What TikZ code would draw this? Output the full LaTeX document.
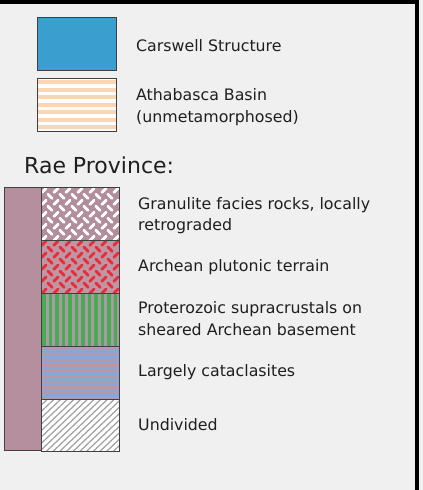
\documentclass[tikz,border=0pt]{standalone}
\usepackage{fontspec}
\setmainfont{DejaVu Sans}
\usepackage{xcolor}
\usepackage{tikz}
\usetikzlibrary{positioning}
\definecolor{panelbg}{RGB}{240,240,240}
\definecolor{carswellblue}{RGB}{58,158,206}
\definecolor{peach}{RGB}{252,214,180}
\definecolor{raemauve}{RGB}{181,143,157}
\definecolor{granmauve}{RGB}{178,142,156}
\definecolor{archpink}{RGB}{190,150,164}
\definecolor{archred}{RGB}{232,44,56}
\definecolor{progreen}{RGB}{72,170,82}
\definecolor{progray}{RGB}{168,156,162}
\definecolor{catblue}{RGB}{140,166,212}
\definecolor{catmauve}{RGB}{182,152,170}
\definecolor{hatchgray}{RGB}{160,160,160}
\tikzset{
  frame/.style    = {line width=3.5pt, black},
  swatch/.style   = {minimum width=78.6pt, minimum height=53pt, inner sep=0pt,
                     anchor=north west},
  unitbox/.style  = {minimum width=78.3pt, minimum height=52.5pt, inner sep=0pt},
  edge/.style     = {draw=black!75, line width=0.8pt},
  legtext/.style  = {anchor=base west, inner sep=0pt, align=left, text=black!88,
                     font=\fontsize{15.8}{21.3}\selectfont},
  heading/.style  = {anchor=base west, inner sep=0pt, text=black!88,
                     font=\fontsize{22}{26}\selectfont},
  weave/.style    = {line width=2.8pt, line cap=round},
}
\begin{document}
\begin{tikzpicture}[x=1pt, y=-1pt]
\useasboundingbox[fill=panelbg] (0,0) rectangle (423,490);
\draw[frame] (0,2) -- (417,2) -- (417,490);

% upper legend
\node[swatch, fill=carswellblue] (carswell) at (37.7,17.3) {};
\node[swatch, fill=white, minimum height=52.7pt] (athabasca) at (37.7,78.3) {};
\begin{scope}[shift={(athabasca.north west)}]
  \clip (0,0) rectangle (78.6,52.7);
  \foreach \k in {0,...,6}
    \fill[peach] (0,2+7.5*\k) rectangle (78.6,5.8+7.5*\k);
\end{scope}
\node[legtext] (carswelltxt) at (136,51.7) {Carswell Structure};
\node[legtext] (athabascatxt) at (136,122) {Athabasca Basin\\(unmetamorphosed)};

% Rae Province
\node[heading] (rae) at (24,173.3) {Rae Province:};
\node[swatch, fill=raemauve, minimum width=36.3pt, minimum height=262.5pt]
  (raebar) at (4.7,187.3) {};
\node[unitbox, anchor=north west, fill=granmauve] (gran) at (41,187.3) {};
\node[unitbox, fill=archpink, below=0pt of gran] (arch) {};
\node[unitbox, fill=progray, below=0pt of arch] (prot) {};
\node[unitbox, fill=catblue, below=0pt of prot] (cata) {};
\node[unitbox, fill=white, below=0pt of cata] (undiv) {};

% granulite and plutonic: woven dashes
\foreach \u/\c in {gran/white, arch/archred} {
  \begin{scope}[shift={(\u.north west)}]
    \clip (0,0) rectangle (78.3,52.5);
    \foreach \i in {0,...,6}
      \foreach \j in {0,...,4} {
        \draw[weave, \c] (12*\i+0.8,12*\j+5.2) -- (12*\i+5.2,12*\j+0.8);
        \draw[weave, \c] (12*\i+6.8,12*\j+6.8) -- (12*\i+11.2,12*\j+11.2);
      }
  \end{scope}
}

% supracrustals: vertical stripes
\begin{scope}[shift={(prot.north west)}]
  \clip (0,0) rectangle (78.3,52.5);
  \foreach \k in {0,...,12}
    \fill[progreen] (1+6.5*\k,0) rectangle (4.5+6.5*\k,52.5);
\end{scope}

% cataclasites: horizontal stripes
\begin{scope}[shift={(cata.north west)}]
  \clip (0,0) rectangle (78.3,52.5);
  \foreach \k in {0,...,10}
    \fill[catmauve] (0,1.5+5.5*\k) rectangle (78.3,4.3+5.5*\k);
\end{scope}

% undivided: hatching
\begin{scope}[shift={(undiv.north west)}]
  \clip (0,0) rectangle (78.3,52.5);
  \foreach \k in {0,...,20}
    \draw[hatchgray, line width=1.2pt] (6.7*\k-55,52.5) -- (6.7*\k,0);
\end{scope}

\foreach \u in {carswell,athabasca,raebar,gran,arch,prot,cata,undiv}
  \draw[edge] (\u.north west) rectangle (\u.south east);

\node[legtext] (grantxt) at (138,230.3) {Granulite facies rocks, locally\\retrograded};
\node[legtext] (archtxt) at (138,271) {Archean plutonic terrain};
\node[legtext] (prottxt) at (138,335) {Proterozoic supracrustals on\\sheared Archean basement};
\node[legtext] (catatxt) at (138,376.7) {Largely cataclasites};
\node[legtext] (undivtxt) at (138,430) {Undivided};
\end{tikzpicture}
\end{document}
